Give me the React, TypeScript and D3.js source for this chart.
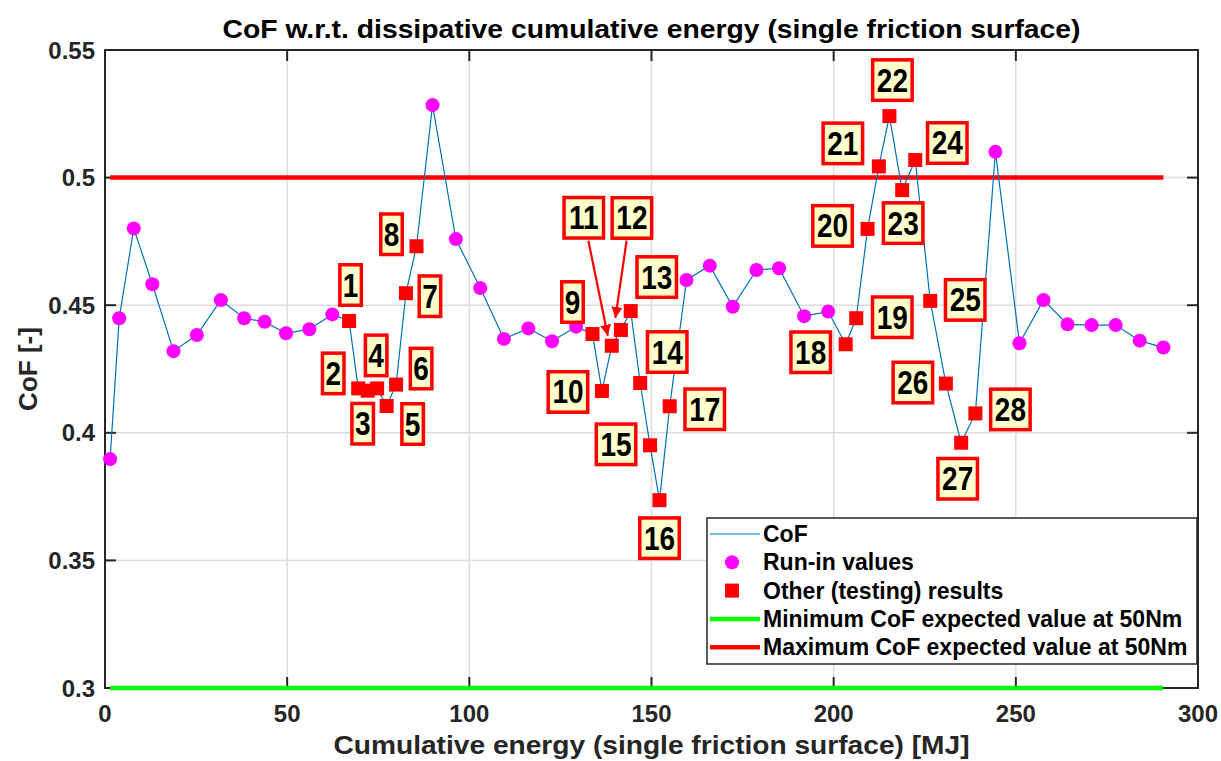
import React from "react";
import * as d3 from "d3";

const runInX = [1.4, 3.9, 7.9, 13.0, 18.8, 25.2, 31.8, 38.2, 43.8, 49.7, 56.1, 62.4, 89.9, 96.3, 103.0, 109.5, 116.2, 122.7, 129.3, 159.6, 166.0, 172.3, 178.8, 185.0, 191.9, 198.5, 244.4, 251.0, 257.6, 264.2, 270.8, 277.4, 284.0, 290.5];
const runInY = [0.3897, 0.4449, 0.4801, 0.4582, 0.432, 0.4383, 0.452, 0.4449, 0.4435, 0.439, 0.4406, 0.4464, 0.5284, 0.4759, 0.4567, 0.4368, 0.4409, 0.4359, 0.4416, 0.4599, 0.4655, 0.4494, 0.4638, 0.4645, 0.4457, 0.4475, 0.5101, 0.4351, 0.452, 0.4425, 0.4422, 0.4422, 0.4361, 0.4334];

const testX = [67.0, 69.5, 72.1, 74.7, 77.3, 79.9, 82.6, 85.5, 133.8, 136.4, 139.1, 141.6, 144.3, 146.9, 149.6, 152.2, 155.0, 203.3, 206.2, 209.3, 212.4, 215.3, 218.8, 222.4, 226.5, 230.8, 235.0, 238.9];
const testY = [0.4438, 0.4174, 0.4165, 0.4174, 0.4105, 0.4189, 0.4547, 0.4731, 0.4387, 0.4164, 0.4341, 0.4403, 0.4477, 0.4195, 0.3951, 0.3736, 0.4104, 0.4347, 0.4449, 0.4799, 0.5044, 0.5241, 0.4951, 0.5069, 0.4517, 0.4193, 0.3961, 0.4076];
const testLabels = testX.map((_, i) => String(i + 1));

// label box offsets (px) relative to each testing marker
const labelDX = [1.5, -25, -5, -1, 26, 25, 24, -25, -20, -34, -28, 11, 26, 27, -34, 0, 35, -35, 36, -35, -36, 3, 1, 32, 35, -33, -3.5, 35];
const labelDY = [-36, -15, 33, -33, 18, -16, 3, -12, -32, 1, -128, -112, -34, -31, -1, 38, 3, 8, -1, -3, -23, -36, 33, -17, -1, -1, 36, -4];

// arrows for labels 11 and 12 (start/end offsets in px from marker)
const arrowIdx = [10, 11];
const arrowStart = [[-23.4, -105], [5.7, -89.3]];
const arrowEnd = [[-4, -10], [-5.5, -12]];

const xTicks = [0, 50, 100, 150, 200, 250, 300];
const yTicks = [0.3, 0.35, 0.4, 0.45, 0.5, 0.55];
const yTickLabels = ["0.3", "0.35", "0.4", "0.45", "0.5", "0.55"];

const minCoF = 0.3;
const maxCoF = 0.5;

const legendItems = ["CoF", "Run-in values", "Other (testing) results", "Minimum CoF expected value at 50Nm", "Maximum CoF expected value at 50Nm"];

export default function App() {
  const L = 105, R = 1198, T = 50, B = 688;
  const x = d3.scaleLinear().domain([0, 300]).range([L, R]);
  const y = d3.scaleLinear().domain([0.3, 0.55]).range([B, T]);

  const all = [
    ...runInX.map((v, i) => [v, runInY[i]]),
    ...testX.map((v, i) => [v, testY[i]]),
  ].sort((a, b) => a[0] - b[0]);
  const line = d3.line<number[]>().x(d => x(d[0])).y(d => y(d[1]));
  const xMin = d3.min(all, d => d[0])!;
  const xMax = d3.max(all, d => d[0])!;

  const axisColor = "#262626";
  const font = "Arial, 'Liberation Sans', sans-serif";
  const blue = "#0072BD";

  const lgX = 707, lgY = 518, lgW = 490, lgH = 146;
  const rowY = (i: number) => lgY + 16 + i * 28.3;

  return (
    <svg width={1221} height={761} style={{ position: "absolute", left: 0, top: 0, background: "#fff" }} fontFamily={font}>
      <defs>
        <marker id="ah" viewBox="0 0 10 10" refX="10" refY="5" markerWidth="5" markerHeight="5" orient="auto" markerUnits="strokeWidth">
          <path d="M0,0 L10,5 L0,10 z" fill="#ff0000" />
        </marker>
      </defs>
      <rect x={0} y={0} width={1221} height={761} fill="#fff" />
      {/* grid */}
      {xTicks.filter(t => t > 0 && t < 300).map(t => (
        <line key={"gx" + t} x1={x(t)} x2={x(t)} y1={T} y2={B} stroke="#dcdcdc" strokeWidth={1.5} />
      ))}
      {yTicks.filter(t => t > 0.3 && t < 0.55).map(t => (
        <line key={"gy" + t} x1={L} x2={R} y1={y(t)} y2={y(t)} stroke="#dcdcdc" strokeWidth={1.5} />
      ))}
      {/* frame */}
      <rect x={L} y={T} width={R - L} height={B - T} fill="none" stroke={axisColor} strokeWidth={2} />
      {xTicks.map(t => (
        <g key={"tx" + t}>
          <line x1={x(t)} x2={x(t)} y1={B} y2={B - 11} stroke={axisColor} strokeWidth={2} />
          <line x1={x(t)} x2={x(t)} y1={T} y2={T + 11} stroke={axisColor} strokeWidth={2} />
          <text x={x(t)} y={722} textAnchor="middle" fontSize={24} fontWeight="bold" fill={axisColor}>{t}</text>
        </g>
      ))}
      {yTicks.map((t, i) => (
        <g key={"ty" + t}>
          <line x1={L} x2={L + 11} y1={y(t)} y2={y(t)} stroke={axisColor} strokeWidth={2} />
          <line x1={R} x2={R - 11} y1={y(t)} y2={y(t)} stroke={axisColor} strokeWidth={2} />
          <text x={95} y={y(t) + 8.5} textAnchor="end" fontSize={24} fontWeight="bold" fill={axisColor}>{yTickLabels[i]}</text>
        </g>
      ))}
      {/* limit lines */}
      <line x1={x(xMin)} x2={x(xMax)} y1={y(maxCoF)} y2={y(maxCoF)} stroke="#ff0000" strokeWidth={4.5} />
      <line x1={x(xMin)} x2={x(xMax)} y1={y(minCoF)} y2={y(minCoF)} stroke="#00ff00" strokeWidth={4.5} />
      {/* CoF line */}
      <path d={line(all) || ""} fill="none" stroke={blue} strokeWidth={1.2} />
      {/* markers */}
      {runInX.map((v, i) => (
        <circle key={"c" + i} cx={x(v)} cy={y(runInY[i])} r={7} fill="#ff00ff" />
      ))}
      {testX.map((v, i) => (
        <rect key={"s" + i} x={x(v) - 7} y={y(testY[i]) - 7} width={14} height={14} fill="#ff0000" />
      ))}
      {/* arrows */}
      {arrowIdx.map((idx, k) => {
        const px = x(testX[idx]), py = y(testY[idx]);
        return (
          <line key={"a" + k} x1={px + arrowStart[k][0]} y1={py + arrowStart[k][1]} x2={px + arrowEnd[k][0]} y2={py + arrowEnd[k][1]}
            stroke="#ff0000" strokeWidth={2.2} markerEnd="url(#ah)" />
        );
      })}
      {/* labels */}
      {testX.map((v, i) => {
        const cx = x(v) + labelDX[i];
        const cy = y(testY[i]) + labelDY[i];
        const w = testLabels[i].length === 1 ? 21.5 : 39.5;
        const h = 40.5;
        return (
          <g key={"l" + i}>
            <rect x={cx - w / 2} y={cy - h / 2} width={w} height={h} fill="#ffffcc" stroke="#ff0000" strokeWidth={3.5} />
            <text transform={`translate(${cx}, ${cy + 11.5}) scale(1, 1.18)`} textAnchor="middle" fontSize={28} fontWeight="bold" fill="#000">{testLabels[i]}</text>
          </g>
        );
      })}
      {/* title & axis labels */}
      <text x={(L + R) / 2} y={38} textAnchor="middle" fontSize={25.5} fontWeight="bold" fill="#000" textLength={858} lengthAdjust="spacingAndGlyphs">
        CoF w.r.t. dissipative cumulative energy (single friction surface)
      </text>
      <text x={(L + R) / 2} y={754} textAnchor="middle" fontSize={26} fontWeight="bold" fill={axisColor} textLength={636} lengthAdjust="spacingAndGlyphs">
        Cumulative energy (single friction surface) [MJ]
      </text>
      <text transform={`translate(37, ${(T + B) / 2}) rotate(-90)`} textAnchor="middle" fontSize={26} fontWeight="bold" fill={axisColor}>
        CoF [-]
      </text>
      {/* legend */}
      <rect x={lgX} y={lgY} width={lgW} height={lgH} fill="#fff" stroke={axisColor} strokeWidth={1.5} />
      <line x1={lgX + 3} x2={lgX + 53} y1={rowY(0)} y2={rowY(0)} stroke={blue} strokeWidth={1.2} />
      <circle cx={lgX + 25} cy={rowY(1)} r={7} fill="#ff00ff" />
      <rect x={lgX + 18} y={rowY(2) - 7} width={14} height={14} fill="#ff0000" />
      <line x1={lgX + 3} x2={lgX + 53} y1={rowY(3)} y2={rowY(3)} stroke="#00ff00" strokeWidth={4.5} />
      <line x1={lgX + 3} x2={lgX + 53} y1={rowY(4)} y2={rowY(4)} stroke="#ff0000" strokeWidth={4.5} />
      {legendItems.map((t, i) => (
        <text key={"lg" + i} x={lgX + 56} y={rowY(i) + 8} fontSize={23} fontWeight="bold" fill="#000">{t}</text>
      ))}
    </svg>
  );
}
